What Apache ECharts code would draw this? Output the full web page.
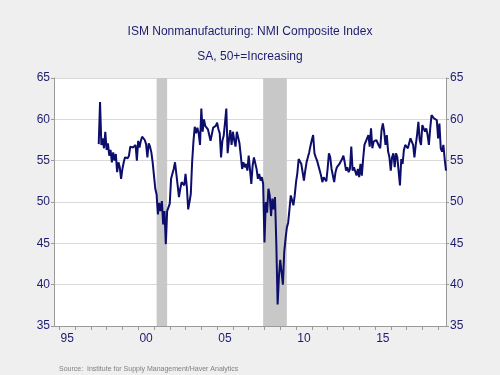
<!DOCTYPE html>
<html>
<head>
<meta charset="utf-8">
<script src="https://cdn.jsdelivr.net/npm/echarts@6/dist/echarts.min.js"></script>
<style>
  html, body { margin: 0; padding: 0; background: #efefef; }
  #chart { width: 500px; height: 375px; }
</style>
</head>
<body>
<div id="chart"></div>
<script>
// axis runs from Sep 1994 to Jul 2019, one category per month
const firstYear = 1994, firstMonth = 9;
const lastYear = 2019, lastMonth = 7;

// recession shading (NBER)
const recessions = [
  ["2001-03", "2001-11"],
  ["2007-12", "2009-06"],
];

// NMI composite, monthly (starts Jul 1997)
const nmi1997 = [57.0, 62.1, 56.9, 57.7, 56.5, 58.5];
const nmi1998 = [56.3, 57.1, 55.6, 56.3, 54.8, 56.0, 55.0, 55.8, 53.6, 54.8, 54.2, 52.8];
const nmi1999 = [54.0, 54.8, 55.4, 55.2, 55.3, 55.6, 56.7, 56.5, 56.6, 56.7, 56.9, 55.0];
const nmi2000 = [57.4, 56.6, 57.4, 57.9, 58.1, 57.5, 57.0, 55.4, 57.1, 56.7, 56.0, 54.8];
const nmi2001 = [53.2, 51.6, 50.9, 48.5, 49.9, 48.9, 50.1, 47.3, 48.9, 44.9, 48.9, 48.7];
const nmi2002 = [49.8, 52.8, 53.0, 54.0, 54.8, 53.4, 52.0, 50.6, 51.6, 52.4, 52.2, 52.0];
const nmi2003 = [53.4, 51.8, 49.1, 50.0, 51.0, 54.8, 57.3, 59.1, 58.3, 59.0, 58.3, 56.9];
const nmi2004 = [61.3, 58.5, 60.0, 59.2, 59.0, 58.8, 59.0, 57.4, 58.2, 59.0, 59.0, 59.2];
const nmi2005 = [59.6, 58.8, 58.3, 55.4, 57.4, 58.0, 59.6, 61.3, 55.9, 57.5, 58.7, 56.9];
const nmi2006 = [58.5, 57.5, 56.7, 58.5, 57.8, 57.1, 55.6, 54.0, 54.8, 54.2, 54.6, 53.8];
const nmi2007 = [55.6, 55.4, 52.2, 54.4, 55.4, 55.2, 54.0, 52.8, 53.4, 52.6, 53.0, 52.2];
const nmi2008 = [45.1, 50.0, 48.7, 51.6, 50.8, 48.3, 50.4, 49.1, 50.6, 45.0, 37.6, 41.0];
const nmi2009 = [43.0, 41.5, 40.0, 43.9, 45.5, 46.9, 47.5, 49.1, 50.8, 50.2, 49.6, 50.8];
const nmi2010 = [52.4, 53.5, 55.2, 55.0, 54.6, 54.6, 52.6, 53.8, 54.8, 55.4, 56.0, 56.8];
const nmi2011 = [57.5, 58.1, 55.9, 55.4, 55.0, 54.4, 53.8, 53.2, 52.4, 53.0, 53.2, 52.5];
const nmi2012 = [54.0, 55.9, 55.4, 54.0, 53.8, 52.4, 53.6, 54.2, 54.4, 54.6, 54.8, 55.2];
const nmi2013 = [55.6, 54.8, 53.8, 54.2, 53.6, 54.0, 56.7, 53.8, 54.2, 54.4, 53.2, 54.0];
const nmi2014 = [53.0, 54.6, 53.2, 55.2, 56.9, 57.1, 57.7, 58.1, 56.7, 58.9, 56.5, 57.3];
const nmi2015 = [57.1, 57.5, 57.7, 56.8, 56.5, 58.7, 59.5, 58.5, 56.9, 58.1, 56.1, 55.4];
const nmi2016 = [53.8, 55.4, 55.9, 54.2, 55.9, 55.4, 55.2, 52.0, 55.2, 54.6, 56.3, 56.9];
const nmi2017 = [56.7, 56.5, 57.1, 57.7, 57.3, 56.9, 55.4, 56.9, 58.1, 59.7, 57.5, 56.9];
const nmi2018 = [59.3, 59.1, 58.5, 58.9, 58.1, 56.9, 58.9, 60.5, 60.3, 60.1, 60.3, 59.9];
const nmi2019 = [57.7, 59.5, 56.5, 56.1, 56.9, 55.2, 53.8];

const yTicks = [35, 40, 45, 50, 55, 60, 65];

// build the month categories
const months = [];
for (let y = firstYear, m = firstMonth; y < lastYear || (y === lastYear && m <= lastMonth); ) {
  months.push(y + "-" + String(m).padStart(2, "0"));
  m++;
  if (m > 12) { m = 1; y++; }
}

const nmiValues = [].concat(
  nmi1997, nmi1998, nmi1999, nmi2000, nmi2001, nmi2002, nmi2003, nmi2004,
  nmi2005, nmi2006, nmi2007, nmi2008, nmi2009, nmi2010, nmi2011, nmi2012,
  nmi2013, nmi2014, nmi2015, nmi2016, nmi2017, nmi2018, nmi2019
);
// pad the months before the series starts
const seriesData = new Array(months.length - nmiValues.length).fill(null).concat(nmiValues);

const navy = "#1c1c6e";
const axisGray = "#9a9a9a";

const chart = echarts.init(document.getElementById("chart"), null, { renderer: "canvas" });

const yAxisBase = {
  type: "value",
  min: yTicks[0],
  max: yTicks[yTicks.length - 1],
  interval: 5,
  axisLine: { show: true, lineStyle: { color: axisGray } },
  axisTick: { show: true, length: 3, lineStyle: { color: axisGray } },
  axisLabel: { color: navy, fontSize: 12, fontFamily: "Liberation Sans", margin: 4 },
};

chart.setOption({
  backgroundColor: "#efefef",
  animation: false,
  title: [
    {
      text: "ISM Nonmanufacturing: NMI Composite Index",
      left: "center",
      top: 21,
      textStyle: { color: navy, fontSize: 12, fontWeight: "normal", fontFamily: "Liberation Sans" },
    },
    {
      text: "SA, 50+=Increasing",
      left: "center",
      top: 46,
      textStyle: { color: navy, fontSize: 12, fontWeight: "normal", fontFamily: "Liberation Sans" },
    },
    {
      text: "Source:  Institute for Supply Management/Haver Analytics",
      left: 54,
      top: 361,
      textStyle: { color: "#808080", fontSize: 7, fontWeight: "normal", fontFamily: "Liberation Sans" },
    },
  ],
  grid: {
    left: 54,
    right: 54,
    top: 78,
    bottom: 49,
    show: true,
    backgroundColor: "#ffffff",
    borderWidth: 0,
  },
  xAxis: {
    type: "category",
    data: months,
    boundaryGap: false,
    axisLine: { show: true, lineStyle: { color: axisGray } },
    axisTick: {
      show: true,
      length: 4,
      interval: (i, v) => v.slice(5) === "01",
      lineStyle: { color: axisGray },
    },
    axisLabel: {
      color: navy,
      fontSize: 12,
      fontFamily: "Liberation Sans",
      margin: 7,
      interval: (i, v) => v.slice(5) === "07" && Number(v.slice(0, 4)) % 5 === 0,
      formatter: (v) => v.slice(2, 4),
    },
    splitLine: { show: false },
  },
  yAxis: [
    Object.assign({}, yAxisBase, {
      position: "left",
      splitLine: { show: true, lineStyle: { color: "#d9d9d9", width: 1 } },
    }),
    Object.assign({}, yAxisBase, {
      position: "right",
      splitLine: { show: false },
    }),
  ],
  series: [
    {
      name: "NMI Composite",
      type: "line",
      data: seriesData,
      showSymbol: false,
      connectNulls: false,
      lineStyle: { color: "#0d0d6b", width: 2 },
      markArea: {
        silent: true,
        itemStyle: { color: "#c8c8c8", opacity: 1 },
        data: recessions.map((r) => [{ xAxis: r[0] }, { xAxis: r[1] }]),
      },
    },
  ],
});
</script>
</body>
</html>
